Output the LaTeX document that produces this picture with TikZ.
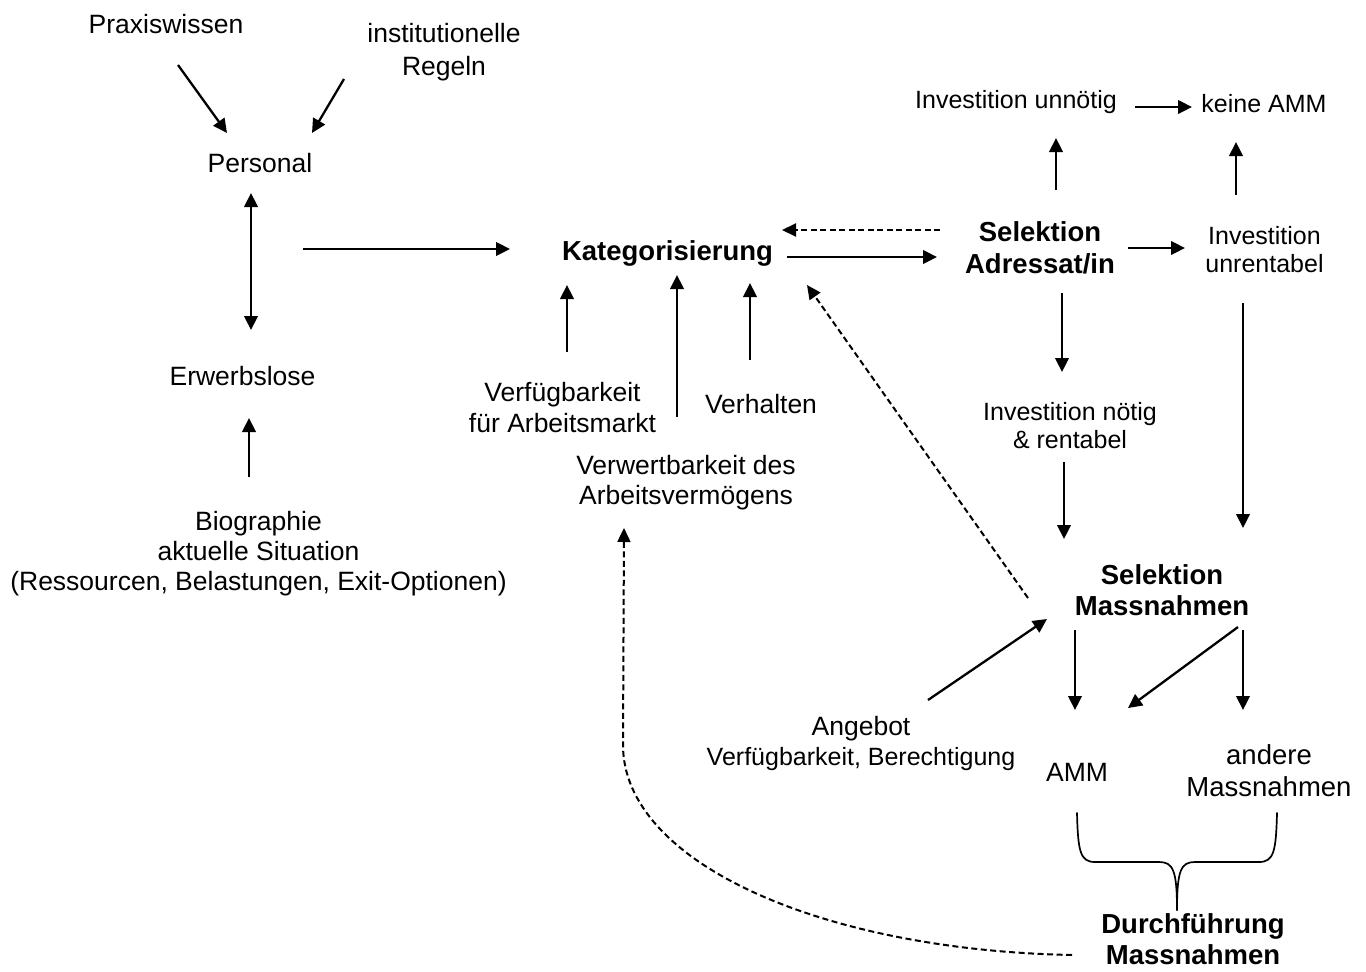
\documentclass[tikz,border=0pt]{standalone}
\usepackage{fontspec}
\setmainfont{Liberation Sans}
\usetikzlibrary{arrows.meta,calc}
\begin{document}
\begin{tikzpicture}[x=1pt,y=-1pt,
  lbl/.style={inner sep=0pt, align=center, font=\fontsize{26.5}{30.5}\selectfont},
  slbl/.style={inner sep=0pt, align=center, font=\fontsize{25}{28}\selectfont},
  blbl/.style={inner sep=0pt, align=center, font=\fontsize{27.5}{31.5}\selectfont\bfseries},
  arr/.style={line width=2.3pt, -{Triangle[length=14pt,width=13.5pt]}},
  darr/.style={line width=2pt, dash pattern=on 6pt off 3.5pt, -{Triangle[length=14pt,width=13pt]}},
  brace/.style={line width=1.7pt, line cap=round, line join=round},
]
\useasboundingbox (0,0) rectangle (1366,972);

% nodes
\node[lbl] (prax) at (166,24) {Praxiswissen};
\node[lbl, font=\fontsize{26.5}{33}\selectfont] (inst) at (444,52.5) {institutionelle\\Regeln};
\node[lbl] (pers) at (260,163) {Personal};
\node[lbl] (erw) at (242.5,376.5) {Erwerbslose};
\node[lbl, font=\fontsize{26.5}{30}\selectfont] (bio) at (258.5,553.5) {Biographie\\aktuelle Situation\\(Ressourcen, Belastungen, Exit-Optionen)};
\node[blbl] (kat) at (667.5,253.5) {Kategorisierung};
\node[lbl] (verf) at (562.5,407.5) {Verfügbarkeit\\für Arbeitsmarkt};
\node[lbl] (verh) at (761,404) {Verhalten};
\node[lbl, font=\fontsize{26.5}{29.5}\selectfont] (verw) at (686,482.5) {Verwertbarkeit des\\Arbeitsvermögens};
\node[slbl] (invu) at (1016,102.5) {Investition unnötig};
\node[slbl] (keine) at (1264,104) {keine AMM};
\node[blbl] (sela) at (1040,248) {Selektion\\Adressat/in};
\node[slbl] (invr) at (1264.5,250) {Investition\\unrentabel};
\node[slbl] (invn) at (1070,426) {Investition nötig\\\& rentabel};
\node[blbl] (selm) at (1162,590) {Selektion\\Massnahmen};
\node[slbl, font=\fontsize{25}{30}\selectfont] (ang) at (861,743.5) {{\fontsize{26.5}{30}\selectfont Angebot}\\Verfügbarkeit, Berechtigung};
\node[lbl] (amm) at (1077,772.5) {AMM};
\node[lbl, font=\fontsize{27.5}{32}\selectfont] (andere) at (1269,771) {andere\\Massnahmen};
\node[blbl, font=\fontsize{27.5}{30.5}\selectfont\bfseries] (durch) at (1193,939) {Durchführung\\Massnahmen};

% connectors
\draw[arr] ($(prax)+(12,41)$) -- ($(pers)+(-33,-30)$);
\draw[arr] ($(inst)+(-100,26.5)$) -- ($(pers)+(52,-30)$);
\draw[line width=2.3pt, {Triangle[length=14pt,width=13.5pt]}-{Triangle[length=14pt,width=13.5pt]}] ($(pers)+(-9,30)$) -- ($(erw)+(8.5,-46.5)$);
\draw[arr] ($(bio)+(-9.5,-76.5)$) -- ($(erw)+(6.5,41.5)$);
\draw[arr] ($(pers)+(43,86)$) -- ($(kat)+(-157.5,-4.5)$);
\draw[arr] ($(verf)+(4.5,-55.5)$) -- ($(kat)+(-100.5,31.5)$);
\draw[arr] ($(verw)+(-9,-65.5)$) -- ($(kat)+(9.5,21.5)$);
\draw[arr] ($(verh)+(-11,-44)$) -- ($(kat)+(82.5,29.5)$);
\draw[arr] ($(kat)+(119.5,3.5)$) -- ($(sela)+(-103,9)$);
\draw[darr] ($(sela)+(-100,-18)$) -- ($(kat)+(114.5,-23.5)$);
\draw[arr] ($(sela)+(88,0)$) -- ($(invr)+(-79.5,-2)$);
\draw[arr] ($(sela)+(16,-58)$) -- ($(invu)+(40,35.5)$);
\draw[arr] ($(invu)+(119,4.5)$) -- ($(keine)+(-72,3)$);
\draw[arr] ($(invr)+(-28.5,-55)$) -- ($(keine)+(-28,38)$);
\draw[arr] ($(sela)+(22,45)$) -- ($(invn)+(-8,-54)$);
\draw[arr] ($(invn)+(-6,36)$) -- ($(selm)+(-98,-51)$);
\draw[arr] ($(invr)+(-21.5,53)$) -- ($(selm)+(81,-62)$);
\draw[darr] ($(selm)+(-134,8)$) -- ($(kat)+(139.5,31.5)$);
\draw[arr] ($(ang)+(67,-43.5)$) -- ($(selm)+(-115,29)$);
\draw[arr] ($(selm)+(-87,40)$) -- ($(amm)+(-2,-62.5)$);
\draw[arr] ($(selm)+(76,37)$) -- ($(amm)+(51,-64.5)$);
\draw[arr] ($(selm)+(81,40)$) -- ($(andere)+(-26,-61)$);

% brace
\coordinate (bl) at ($(amm)+(0,40.5)$);
\coordinate (br) at ($(andere)+(8,42)$);
\coordinate (bt) at ($(durch)+(-16,-29)$);
\draw[brace] (bl) .. controls ($(bl)+(1,38)$) and ($(bl)+(3,49)$) .. ($(bl)+(18,49)$)
  -- ($(bt)+(-18,-48)$) .. controls ($(bt)+(-4,-48)$) and ($(bt)+(0,-40)$) .. (bt);
\draw[brace] (br) .. controls ($(br)+(-1,38)$) and ($(br)+(-3,49)$) .. ($(br)+(-18,49)$)
  -- ($(bt)+(18,-48)$) .. controls ($(bt)+(4,-48)$) and ($(bt)+(0,-40)$) .. (bt);

% dashed feedback curve
\draw[darr] ($(durch)+(-121,16)$) .. controls (820,950) and (623,862) .. (623,745) -- ($(verw)+(-62,45.5)$);
\end{tikzpicture}
\end{document}
